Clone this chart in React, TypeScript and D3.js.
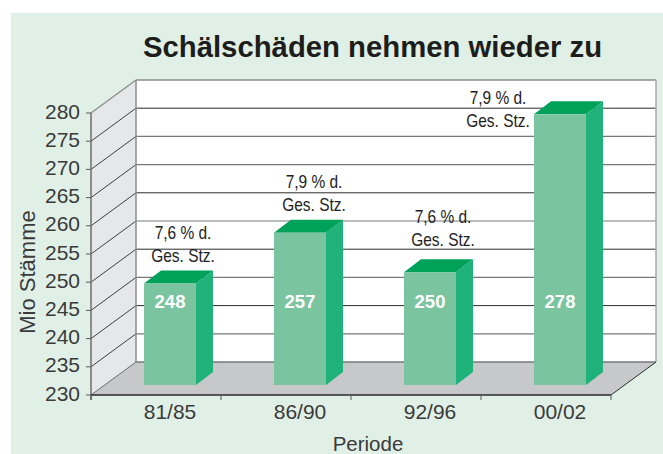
import React from "react";
import * as d3 from "d3";

const categories = ["81/85", "86/90", "92/96", "00/02"];
const values = [248, 257, 250, 278];
const notes = [
  ["7,6 % d.", "Ges. Stz."],
  ["7,9 % d.", "Ges. Stz."],
  ["7,6 % d.", "Ges. Stz."],
  ["7,9 % d.", "Ges. Stz."],
];
const noteOffsets = [[13, -44], [14, -45], [13, -49], [-62, -10]];
const ticks = [230, 235, 240, 245, 250, 255, 260, 265, 270, 275, 280];
const darkTicks = [240, 250, 260, 275];
const title = "Schälschäden nehmen wieder zu";
const xTitle = "Periode";
const yTitle = "Mio Stämme";

const W = 663, H = 454;
const x0 = 91, x1 = 611, dx = 45, dy = -33;
const y = d3.scaleLinear().domain([230, 280]).range([395, 113]);
const x = d3.scaleBand<string>().domain(categories).range([x0, x1]);
const barW = 52, barDx = 17, barDy = -13, barLift = 10;
const sans = "'Liberation Sans', Arial, sans-serif";
const poly = (p: number[][]) => p.map((q) => q.join(",")).join(" ");
const textCol = "#3a3a3a";

export default function App() {
  return (
    <svg width={W} height={H} style={{ position: "absolute", left: 0, top: 0, display: "block" }}>
      <rect width={W} height={H} fill="#fff" />
      <rect x={11} y={13} width={W - 11} height={H - 13} fill="#e1f0e6" />
      <text x={372.5} y={57} textAnchor="middle" fontFamily={sans} fontWeight={700} fontSize={29.3} fill="#1d1d1b">{title}</text>

      {/* back wall */}
      <rect x={x0 + dx} y={y(280) + dy} width={x1 - x0} height={y(230) - y(280)} fill="#fff" />
      {/* side wall */}
      <polygon points={poly([[x0, y(230)], [x0 + dx, y(230) + dy], [x0 + dx, y(280) + dy], [x0, y(280)]])} fill="#e6e7e9" />
      {/* floor */}
      <polygon points={poly([[x0, y(230)], [x1, y(230)], [x1 + dx, y(230) + dy], [x0 + dx, y(230) + dy]])} fill="#c7c8ca" />

      {ticks.filter((t) => t > 230 && t < 280).map((t) => {
        const dark = darkTicks.includes(t);
        return (
          <g key={t}>
            <line x1={x0} x2={x0 + dx} y1={y(t)} y2={y(t) + dy} stroke="#2b2b2b" strokeWidth={0.9} />
            <line x1={x0 + dx} x2={x1 + dx} y1={y(t) + dy} y2={y(t) + dy}
              stroke={dark ? "#2b2b2b" : "#77787b"} strokeWidth={dark ? 1 : 1.2} />
          </g>
        );
      })}
      <line x1={x0 + dx} x2={x1 + dx} y1={y(230) + dy} y2={y(230) + dy} stroke="#77787b" strokeWidth={1.5} />
      <line x1={x0 + dx} x2={x1 + dx} y1={y(280) + dy} y2={y(280) + dy} stroke="#8a8c8e" strokeWidth={1.5} />
      <line x1={x1 + dx} x2={x1 + dx} y1={y(280) + dy} y2={y(230) + dy} stroke="#a7a9ac" strokeWidth={1.5} />
      <line x1={x0 + dx} x2={x0 + dx} y1={y(280) + dy} y2={y(230) + dy} stroke="#8a8c8e" strokeWidth={1.5} />
      <line x1={x0} x2={x0 + dx} y1={y(280)} y2={y(280) + dy} stroke="#8a8c8e" strokeWidth={1.3} />
      <line x1={x0} x2={x0 + dx} y1={y(230)} y2={y(230) + dy} stroke="#6d6e71" strokeWidth={1} />
      <line x1={x1} x2={x1 + dx} y1={y(230)} y2={y(230) + dy} stroke="#2b2b2b" strokeWidth={1} />

      {/* y axis */}
      <line x1={x0} x2={x0} y1={y(280)} y2={y(230) + 5} stroke="#6d6e71" strokeWidth={1.5} />
      {ticks.map((t) => (
        <g key={t}>
          <line x1={x0 - 5} x2={x0} y1={y(t)} y2={y(t)} stroke="#58595b" strokeWidth={1} />
          <text x={80} y={y(t) + 5.5} textAnchor="end" fontFamily={sans} fontSize={21} fill={textCol}>{t}</text>
        </g>
      ))}

      {/* x axis */}
      <line x1={x0} x2={x1} y1={y(230)} y2={y(230)} stroke="#2b2b2b" strokeWidth={1.5} />
      {[...categories.map((c) => x(c)!), x1].map((p) => (
        <line key={p} x1={p} x2={p} y1={y(230)} y2={y(230) + 5} stroke="#58595b" strokeWidth={1} />
      ))}
      {categories.map((c) => (
        <text key={c} x={x(c)! + 79} y={419} textAnchor="middle" fontFamily={sans} fontSize={21} fill={textCol}>{c}</text>
      ))}
      <text x={368} y={451} textAnchor="middle" fontFamily={sans} fontSize={20.5} fill={textCol}>{xTitle}</text>
      <text transform="translate(35,272) rotate(-90)" textAnchor="middle" fontFamily={sans} fontSize={22} fill={textCol}>{yTitle}</text>

      {/* bars */}
      {values.map((v, i) => {
        const bx = x(categories[i])! + 53;
        const top = y(v) - barLift;
        const bottom = y(230) - barLift;
        return (
          <g key={i}>
            <polygon points={poly([[bx + barW, top], [bx + barW + barDx, top + barDy], [bx + barW + barDx, bottom + barDy], [bx + barW, bottom]])} fill="#20b27b" />
            <polygon points={poly([[bx, top], [bx + barDx, top + barDy], [bx + barW + barDx, top + barDy], [bx + barW, top]])} fill="#00a25a" />
            <rect x={bx} y={top} width={barW} height={bottom - top} fill="#7ac5a0" />
            <text x={bx + barW / 2} y={308} textAnchor="middle" fontFamily={sans} fontWeight={700} fontSize={18.5} fill="#fff">{v}</text>
            {notes[i].map((line, j) => (
              <text key={j}
                transform={`translate(${bx + barW / 2 + noteOffsets[i][0]},${top + noteOffsets[i][1] + j * 23}) scale(0.86,1)`}
                textAnchor="middle" fontFamily={sans} fontSize={18} fill="#222222">{line}</text>
            ))}
          </g>
        );
      })}
    </svg>
  );
}
